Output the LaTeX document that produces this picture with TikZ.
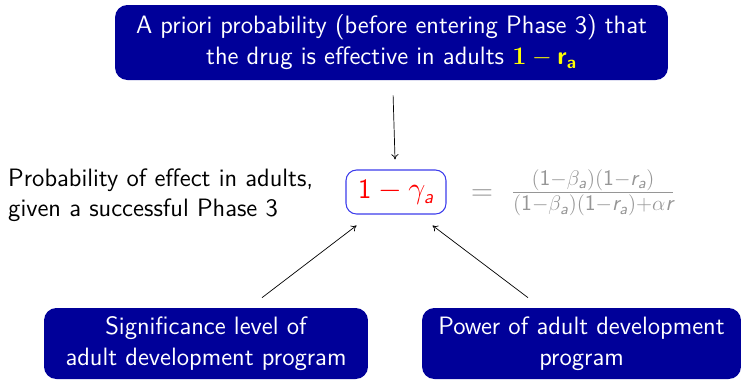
\documentclass[tikz,border=0pt]{standalone}
\usepackage{amsmath,amssymb}
\usepackage{tikz}
\usetikzlibrary{positioning,calc}
\usetikzlibrary{arrows.meta}
\definecolor{DeepBlue}{RGB}{0,0,153}
\definecolor{EdgeBlue}{RGB}{60,60,235}
\definecolor{FormGray}{RGB}{150,150,150}
\definecolor{PriorYellow}{RGB}{255,255,0}
\newcommand{\sfa}{\text{\sffamily\slshape a}}
\newcommand{\sfr}{\text{\sffamily\slshape r}}
\newcommand{\sfone}{\text{\sffamily 1}}
\tikzset{
	bluebox/.style={fill=DeepBlue,text=white,rounded corners=7pt,align=center,
		font=\sffamily\fontsize{14.3}{17.5}\selectfont},
	gambox/.style={draw=EdgeBlue,line width=0.6pt,rounded corners=6pt,text=red,
		minimum width=2cm,minimum height=0.88cm,font=\fontsize{16}{19}\selectfont},
	plain/.style={align=left,font=\sffamily\fontsize{14.3}{17}\selectfont},
	link/.style={-{To[length=3pt,width=4pt]},line width=0.4pt},
}

\begin{document}
\begin{tikzpicture}[x=0.02cm,y=-0.02cm]
	\useasboundingbox (0,0) rectangle (742,380);
	\node[bluebox,minimum width=11.06cm,minimum height=1.5cm] (prior) at (391.5,42.5)
		{A priori probability (before entering Phase 3) that\\
		 the drug is effective in adults {\color{PriorYellow}$\mathbf{1}-\text{\bfseries r}_{\text{\bfseries a}}$}};
	\node[gambox] (gam) at (396,192) {$\sfone-\gamma_{\sfa}$};
	\node[plain,anchor=west] (lbl) at (2,195)
		{Probability of effect in adults,\\ given a successful Phase 3};
	\node[anchor=west,text=FormGray,font=\fontsize{18}{21}\selectfont] (frm) at (465,193)
		{$=\ \frac{(\sfone-\beta_{\sfa})(\sfone-\sfr_{\sfa})}{(\sfone-\beta_{\sfa})(\sfone-\sfr_{\sfa})+\alpha\sfr}$};
	\node[bluebox,minimum width=6.48cm,minimum height=1.42cm] (sig) at (206,343.5)
		{Significance level of\\ adult development program};
	\node[bluebox,minimum width=6.38cm,minimum height=1.42cm] (pow) at (581.5,343.5)
		{Power of adult development\\ program};
	% arrows into the posterior box
	\draw[link,shorten <=0.3cm,shorten >=0.2cm] (prior) -- (gam);
	\draw[link] ($(sig.north)+(56,-10)$) -- ($(gam.south west)+(11,11)$);
	\draw[link] ($(pow.north)+(-53.5,-10)$) -- ($(gam.south east)+(-14,11)$);
\end{tikzpicture}
\end{document}
